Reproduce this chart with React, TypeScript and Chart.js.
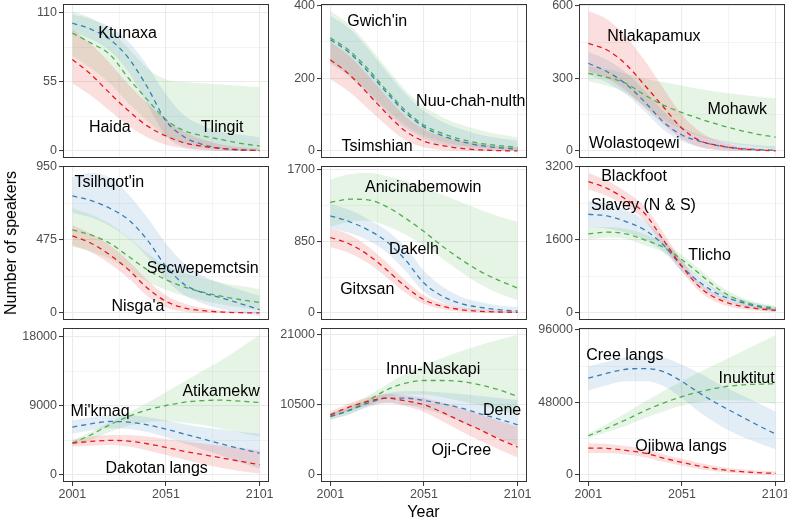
import React, { useEffect, useRef } from "react";
import { Chart, registerables } from "chart.js";

Chart.register(...registerables);

// ---------- shared axes ----------
const years = [2001, 2011, 2021, 2031, 2041, 2051, 2061, 2071, 2081, 2091, 2101];
const xTicks = [2001, 2026, 2051, 2076, 2101];
const xTickLabels = [2001, 2051, 2101];

// ---------- panel 1 ----------
const p1Names = ["Haida", "Ktunaxa", "Tlingit"];
const haidaMid = [73, 61, 46, 32, 20, 12, 6.4, 3.7, 1.9, 0.8, 0.3];
const haidaLo = [54, 44, 32, 20, 11, 5, 2, 0.8, 0.2, 0, 0];
const haidaHi = [97, 85, 70, 53, 38, 25, 15, 9, 5, 3, 2];
const ktunaxaMid = [102, 97, 89, 74, 51, 24, 11, 5, 2, 1, 0.3];
const ktunaxaLo = [95, 89, 80, 63, 37, 12, 3, 1, 0, 0, 0];
const ktunaxaHi = [109, 105, 99, 87, 68, 45, 28, 20, 15, 13, 11];
const tlingitMid = [94, 86, 77, 58, 41, 25, 16, 12, 9, 6, 4];
const tlingitLo = [76, 66, 54, 38, 24, 12, 6, 3, 2, 1, 0.5];
const tlingitHi = [111.6, 106, 96, 82, 66, 57, 55, 54, 53, 52, 51];
const p1LabelX = [2021, 2030.5, 2081];
const p1LabelY = [19.6, 95, 19.6];

// ---------- panel 2 ----------
const p2Names = ["Tsimshian", "Nuu-chah-nulth", "Gwich'in"];
const tsimshianMid = [251, 211, 158, 103, 55, 27, 15, 7, 3, 1, 0.3];
const tsimshianLo = [197, 163, 117, 70, 30, 10, 3, 1, 0, 0, 0];
const tsimshianHi = [300, 262, 208, 150, 95, 60, 40, 28, 20, 14, 10];
const nuuMid = [306, 271, 219, 161, 106, 66, 42, 26, 15, 9, 5];
const nuuLo = [240, 205, 158, 106, 63, 34, 17, 8, 3, 1, 0];
const nuuHi = [372, 338, 282, 218, 158, 110, 80, 60, 45, 35, 28];
const gwichinMid = [311, 277, 226, 167, 112, 71, 48, 32, 21, 15, 10];
const gwichinLo = [245, 212, 165, 115, 72, 42, 25, 15, 9, 5, 3];
const gwichinHi = [384.9, 348, 292, 228, 168, 122, 92, 72, 57, 46, 38];
const p2LabelX = [2026, 2076, 2026];
const p2LabelY = [16.5, 140, 358];

// ---------- panel 3 ----------
const p3Names = ["Ntlakapamux", "Wolastoqewi", "Mohawk"];
const ntlakMid = [445, 418, 359, 273, 183, 94, 41, 22, 10, 4, 1];
const ntlakLo = [330, 300, 250, 180, 110, 50, 15, 3, 0, 0, 0];
const ntlakHi = [579.3, 545, 475, 375, 260, 150, 78, 40, 20, 11, 6];
const wolaMid = [363, 328, 277, 204, 121, 66, 39, 21, 11, 6, 3];
const wolaLo = [315, 283, 235, 165, 88, 40, 15, 5, 1, 0, 0];
const wolaHi = [410, 378, 325, 250, 165, 100, 65, 45, 32, 25, 20];
const mohawkMid = [321, 305, 280, 232, 190, 159, 132, 108, 87, 70, 57];
const mohawkLo = [290, 270, 240, 185, 130, 90, 60, 40, 25, 15, 8];
const mohawkHi = [350, 338, 320, 300, 285, 270, 256, 244, 234, 226, 218];
const p3LabelX = [2036, 2025.5, 2080.5];
const p3LabelY = [480, 38, 177];

// ---------- panel 4 ----------
const p4Names = ["Nisga'a", "Tsilhqot'in", "Secwepemctsin"];
const nisgaaMid = [501, 453, 378, 281, 162, 76, 32, 15, 6, 2, 0.5];
const nisgaaLo = [440, 395, 320, 225, 110, 38, 8, 0, 0, 0, 0];
const nisgaaHi = [570, 515, 440, 340, 215, 115, 60, 32, 16, 8, 5];
const tsilMid = [760, 730, 680, 605, 475, 302, 184, 130, 97, 60, 22];
const tsilLo = [650, 620, 565, 485, 365, 215, 115, 60, 25, 0, -20];
const tsilHi = [880, 909, 880, 770, 620, 450, 320, 240, 190, 150, 110];
const secwMid = [540, 507, 453, 367, 281, 216, 168, 134, 108, 86, 69];
const secwLo = [430, 400, 350, 280, 205, 150, 110, 80, 55, 35, 20];
const secwHi = [680, 640, 580, 490, 390, 310, 260, 225, 195, 175, 155];
const p4LabelX = [2036, 2020.7, 2070.6];
const p4LabelY = [47, 853, 297];

// ---------- panel 5 ----------
const p5Names = ["Gitxsan", "Dakelh", "Anicinabemowin"];
const gitxsanMid = [893, 819, 689, 512, 315, 157, 79, 39, 20, 12, 8];
const gitxsanLo = [780, 710, 590, 420, 240, 105, 45, 15, 3, 0, 0];
const gitxsanHi = [1000, 930, 790, 600, 390, 210, 115, 65, 40, 28, 20];
const dakelhMid = [1149, 1082, 984, 846, 630, 354, 197, 110, 67, 39, 24];
const dakelhLo = [1000, 950, 860, 720, 500, 250, 120, 55, 25, 8, 0];
const dakelhHi = [1290, 1220, 1110, 980, 780, 500, 310, 190, 130, 90, 70];
const anicMid = [1307, 1346, 1338, 1259, 1122, 964, 787, 630, 492, 386, 295];
const anicLo = [1020, 1080, 1090, 1030, 930, 800, 640, 480, 340, 230, 150];
const anicHi = [1580, 1640, 1656, 1620, 1560, 1480, 1400, 1310, 1220, 1140, 1080];
const p5LabelX = [2020.7, 2045.6, 2050.6];
const p5LabelY = [295, 767, 1503];

// ---------- panel 6 ----------
const p6Names = ["Blackfoot", "Slavey (N & S)", "Tlicho"];
const blackfootMid = [2873, 2727, 2487, 2182, 1600, 1018, 545, 291, 160, 95, 58];
const blackfootLo = [2700, 2560, 2330, 2030, 1460, 900, 450, 210, 100, 50, 20];
const blackfootHi = [3062, 2900, 2650, 2330, 1760, 1140, 640, 370, 220, 140, 100];
const slaveyMid = [2160, 2124, 2000, 1818, 1491, 1018, 655, 400, 255, 145, 73];
const slaveyLo = [1870, 1850, 1760, 1600, 1340, 900, 560, 320, 180, 80, 20];
const slaveyHi = [2450, 2400, 2250, 2030, 1640, 1130, 750, 480, 320, 210, 130];
const tlichoMid = [1731, 1767, 1731, 1600, 1440, 1164, 836, 509, 291, 167, 109];
const tlichoLo = [1600, 1650, 1620, 1480, 1330, 1060, 730, 420, 220, 110, 60];
const tlichoHi = [1870, 1880, 1840, 1720, 1550, 1270, 940, 600, 370, 230, 160];
const p6LabelX = [2025.4, 2030.4, 2065.7];
const p6LabelY = [3003, 2380, 1288];

// ---------- panel 7 ----------
const p7Names = ["Dakotan langs", "Mi'kmaq", "Atikamekw"];
const dakotanMid = [4154, 4370, 4500, 4414, 4068, 3592, 3072, 2640, 2207, 1774, 1341];
const dakotanLo = [3700, 3800, 3900, 3700, 3200, 2600, 2000, 1400, 900, 500, 200];
const dakotanHi = [4600, 5000, 5200, 5200, 5000, 4700, 4400, 4100, 3800, 3500, 3200];
const mikmaqMid = [6231, 6664, 6967, 6880, 6534, 5971, 5322, 4673, 4024, 3418, 2856];
const mikmaqLo = [5400, 5800, 6100, 6000, 5600, 4900, 4100, 3300, 2500, 1600, 800];
const mikmaqHi = [7100, 7500, 7800, 7800, 7500, 7100, 6600, 6200, 5900, 5600, 5400];
const atikMid = [4154, 5236, 6534, 7616, 8481, 9044, 9477, 9693, 9736, 9606, 9433];
const atikLo = [3800, 4600, 5600, 6400, 6900, 7000, 6800, 6500, 6000, 5500, 5000];
const atikHi = [4500, 5600, 6900, 8100, 9400, 10800, 12200, 13600, 15000, 16600, 18221];
const p7LabelX = [2046, 2015.8, 2080.4];
const p7LabelY = [950, 8460, 10972];

// ---------- panel 8 ----------
const p8Names = ["Oji-Cree", "Dene", "Innu-Naskapi"];
const ojiCreeMid = [8987, 10129, 10973, 11470, 11072, 10477, 9335, 7994, 6753, 5362, 4171];
const ojiCreeLo = [8500, 9600, 10400, 10800, 10300, 9400, 8000, 6500, 5100, 3800, 2600];
const ojiCreeHi = [9500, 10700, 11600, 12100, 11900, 11500, 10800, 9900, 9000, 8100, 7200];
const deneMid = [8739, 9633, 10725, 11470, 11470, 11122, 10626, 9980, 9136, 8342, 7498];
const deneLo = [8200, 9100, 10100, 10700, 10500, 9900, 9000, 7900, 6700, 5500, 4400];
const deneHi = [9200, 10100, 11300, 12200, 12500, 12500, 12300, 12100, 11800, 11500, 11200];
const innuMid = [8739, 9633, 11072, 12711, 13704, 14101, 14101, 13952, 13456, 12711, 11718];
const innuLo = [8300, 9000, 10300, 11500, 12000, 12000, 11600, 11000, 10400, 9700, 9000];
const innuHi = [9200, 10300, 11800, 13500, 15100, 16400, 17500, 18500, 19400, 20200, 20895];
const p8LabelX = [2070.9, 2092.7, 2055.9];
const p8LabelY = [3880, 9806, 15925];

// ---------- panel 9 ----------
const p9Names = ["Ojibwa langs", "Cree langs", "Inuktitut"];
const ojibwaMid = [17833, 17613, 16292, 14531, 11229, 8366, 5724, 3743, 2422, 1541, 1101];
const ojibwaLo = [14500, 14500, 13500, 11800, 8700, 6100, 3800, 2200, 1100, 400, 0];
const ojibwaHi = [21000, 20600, 19200, 17200, 13800, 10700, 7700, 5500, 4000, 3000, 2400];
const creeMid = [64070, 67372, 70014, 70454, 68472, 61867, 53721, 46455, 39850, 33245, 27080];
const creeLo = [56000, 59500, 62000, 62000, 59000, 51000, 41000, 33000, 26500, 21500, 17000];
const creeHi = [72000, 75000, 78000, 79000, 78000, 73000, 67000, 60000, 54000, 48000, 42000];
const inukMid = [25980, 31044, 36548, 42492, 47556, 51959, 55262, 57904, 59445, 60106, 60326];
const inukLo = [24500, 28500, 32500, 37500, 42000, 46000, 48500, 49500, 49500, 48500, 47000];
const inukHi = [27500, 34000, 41000, 48500, 55500, 62000, 68500, 74500, 80500, 86500, 92690];
const p9LabelX = [2050.5, 2020.5, 2085.5];
const p9LabelY = [19400, 79648, 64420];

// ---------- per-panel y ranges (data max and top break) ----------
const dataMax = [111.6, 384.9, 579.3, 909, 1656, 3062, 18221, 20895, 92690];
const tickMax = [110, 400, 600, 950, 1700, 3200, 18000, 21000, 96000];

// ---------- styling ----------
const COLORS = ["#E41A1C", "#377EB8", "#4DAF4A"];
const BAND_COLORS = ["rgba(228,26,28,0.14)", "rgba(55,126,184,0.14)", "rgba(77,175,74,0.14)"];
const FONT = "'Liberation Sans', Arial, Helvetica, sans-serif";

const COL_LEFT = [63, 321, 579];
const ROW_TOP = [4, 166, 328];
const PW = 206;
const PH = 154;
const YW = 55;
const PADT = 10;
const PADR = 10;
const PADB = 10;
const XH = 24;

type SeriesDef = { name: string; mid: number[]; lo: number[]; hi: number[]; lx: number; ly: number };
type PanelDef = { idx: number; series: SeriesDef[] };

function mk(names: string[], mids: number[][], los: number[][], his: number[][], lx: number[], ly: number[]): SeriesDef[] {
  return names.map((n, i) => ({ name: n, mid: mids[i], lo: los[i], hi: his[i], lx: lx[i], ly: ly[i] }));
}

const panels: PanelDef[] = [
  { idx: 0, series: mk(p1Names, [haidaMid, ktunaxaMid, tlingitMid], [haidaLo, ktunaxaLo, tlingitLo], [haidaHi, ktunaxaHi, tlingitHi], p1LabelX, p1LabelY) },
  { idx: 1, series: mk(p2Names, [tsimshianMid, nuuMid, gwichinMid], [tsimshianLo, nuuLo, gwichinLo], [tsimshianHi, nuuHi, gwichinHi], p2LabelX, p2LabelY) },
  { idx: 2, series: mk(p3Names, [ntlakMid, wolaMid, mohawkMid], [ntlakLo, wolaLo, mohawkLo], [ntlakHi, wolaHi, mohawkHi], p3LabelX, p3LabelY) },
  { idx: 3, series: mk(p4Names, [nisgaaMid, tsilMid, secwMid], [nisgaaLo, tsilLo, secwLo], [nisgaaHi, tsilHi, secwHi], p4LabelX, p4LabelY) },
  { idx: 4, series: mk(p5Names, [gitxsanMid, dakelhMid, anicMid], [gitxsanLo, dakelhLo, anicLo], [gitxsanHi, dakelhHi, anicHi], p5LabelX, p5LabelY) },
  { idx: 5, series: mk(p6Names, [blackfootMid, slaveyMid, tlichoMid], [blackfootLo, slaveyLo, tlichoLo], [blackfootHi, slaveyHi, tlichoHi], p6LabelX, p6LabelY) },
  { idx: 6, series: mk(p7Names, [dakotanMid, mikmaqMid, atikMid], [dakotanLo, mikmaqLo, atikLo], [dakotanHi, mikmaqHi, atikHi], p7LabelX, p7LabelY) },
  { idx: 7, series: mk(p8Names, [ojiCreeMid, deneMid, innuMid], [ojiCreeLo, deneLo, innuLo], [ojiCreeHi, deneHi, innuHi], p8LabelX, p8LabelY) },
  { idx: 8, series: mk(p9Names, [ojibwaMid, creeMid, inukMid], [ojibwaLo, creeLo, inukLo], [ojibwaHi, creeHi, inukHi], p9LabelX, p9LabelY) },
];

const pts = (arr: number[]) => years.map((x, i) => ({ x, y: arr[i] }));

function Panel({ p }: { p: PanelDef }) {
  const ref = useRef<HTMLCanvasElement | null>(null);
  const col = p.idx % 3;
  const row = Math.floor(p.idx / 3);
  const bottom = row === 2;
  const width = YW + PW + PADR;
  const height = PADT + PH + (bottom ? XH : 0) + PADB;

  useEffect(() => {
    if (!ref.current) return;
    const D = dataMax[p.idx];
    const T = tickMax[p.idx];
    const datasets: any[] = [];
    p.series.forEach((s, i) => {
      datasets.push({
        data: pts(s.lo), borderWidth: 0, borderColor: "rgba(0,0,0,0)", pointRadius: 0,
        fill: false, cubicInterpolationMode: "monotone",
      });
      datasets.push({
        data: pts(s.hi), borderWidth: 0, borderColor: "rgba(0,0,0,0)", pointRadius: 0,
        fill: "-1", backgroundColor: BAND_COLORS[i], cubicInterpolationMode: "monotone",
      });
    });
    p.series.forEach((s, i) => {
      datasets.push({
        data: pts(s.mid), borderColor: COLORS[i], borderWidth: 1.3, borderDash: [5, 4],
        pointRadius: 0, fill: false, cubicInterpolationMode: "monotone",
      });
    });

    const borderPlugin = {
      id: "panelBorder",
      afterDraw(chart: any) {
        const a = chart.chartArea;
        const c = chart.ctx;
        c.save();
        c.strokeStyle = "#333333";
        c.lineWidth = 1;
        c.strokeRect(Math.round(a.left) + 0.5, Math.round(a.top) + 0.5, Math.round(a.right - a.left) - 1, Math.round(a.bottom - a.top) - 1);
        c.restore();
      },
    };
    const labelPlugin = {
      id: "panelLabels",
      afterDatasetsDraw(chart: any) {
        const c = chart.ctx;
        const xs = chart.scales.x;
        const ys = chart.scales.y;
        c.save();
        c.font = `16px ${FONT}`;
        c.fillStyle = "#000000";
        c.textAlign = "center";
        c.textBaseline = "alphabetic";
        p.series.forEach((s) => {
          c.fillText(s.name, xs.getPixelForValue(s.lx), ys.getPixelForValue(s.ly) + 5.7);
        });
        c.restore();
      },
    };

    const gridColor = "#EBEBEB";
    const chart = new Chart(ref.current, {
      type: "line",
      data: { datasets },
      options: {
        responsive: false,
        animation: false,
        devicePixelRatio: 1,
        layout: { padding: { top: PADT, right: PADR, bottom: PADB, left: 0 } },
        plugins: {
          legend: { display: false },
          tooltip: { enabled: false },
          filler: { drawTime: "beforeDatasetsDraw", propagate: false },
        },
        scales: {
          x: {
            type: "linear",
            min: 1996,
            max: 2106,
            afterBuildTicks: (ax: any) => { ax.ticks = xTicks.map((v) => ({ value: v })); },
            afterFit: (ax: any) => { ax.height = bottom ? XH : 0; },
            ticks: {
              display: bottom,
              autoSkip: false,
              maxRotation: 0,
              padding: 1,
              color: "#4D4D4D",
              font: { family: FONT, size: 12.5 },
              callback: (v: any) => (xTickLabels.includes(Number(v)) ? String(v) : ""),
            },
            grid: {
              color: gridColor,
              lineWidth: (ctx: any) => (ctx.index % 2 === 0 ? 1.1 : 0.55),
              drawTicks: bottom,
              tickLength: 4,
              tickWidth: 1,
              tickColor: (ctx: any) => (ctx.index % 2 === 0 ? "#333333" : "rgba(0,0,0,0)"),
            },
            border: { display: false },
          },
          y: {
            type: "linear",
            min: -0.05 * D,
            max: 1.05 * D,
            afterBuildTicks: (ax: any) => { ax.ticks = [0, 1, 2, 3, 4].map((k) => ({ value: (T * k) / 4 })); },
            afterFit: (ax: any) => { ax.width = YW; },
            ticks: {
              autoSkip: false,
              padding: 2,
              color: "#4D4D4D",
              font: { family: FONT, size: 12.5 },
              callback: (v: any, i: number) => (i % 2 === 0 ? String(v) : ""),
            },
            grid: {
              color: gridColor,
              lineWidth: (ctx: any) => (ctx.index % 2 === 0 ? 1.1 : 0.55),
              drawTicks: true,
              tickLength: 4,
              tickWidth: 1,
              tickColor: (ctx: any) => (ctx.index % 2 === 0 ? "#333333" : "rgba(0,0,0,0)"),
            },
            border: { display: false },
          },
        },
      } as any,
      plugins: [borderPlugin, labelPlugin],
    });
    return () => chart.destroy();
  }, [p]);

  return (
    <canvas
      ref={ref}
      width={width}
      height={height}
      style={{ position: "absolute", left: COL_LEFT[col] - YW, top: ROW_TOP[row] - PADT, width, height }}
    />
  );
}

export default function App() {
  return (
    <div style={{ position: "fixed", left: 0, top: 0, width: 787, height: 518, background: "#ffffff", overflow: "hidden" }}>
      {panels.map((p) => (
        <Panel key={p.idx} p={p} />
      ))}
      <div
        style={{
          position: "absolute", left: 11, top: 243, transform: "translate(-50%, -50%) rotate(-90deg)",
          whiteSpace: "nowrap", font: `16px ${FONT}`, color: "#000", lineHeight: "18px",
        }}
      >
        Number of speakers
      </div>
      <div
        style={{
          position: "absolute", left: 423.5, top: 503, transform: "translateX(-50%)",
          whiteSpace: "nowrap", font: `16px ${FONT}`, color: "#000", lineHeight: "18px",
        }}
      >
        Year
      </div>
    </div>
  );
}
